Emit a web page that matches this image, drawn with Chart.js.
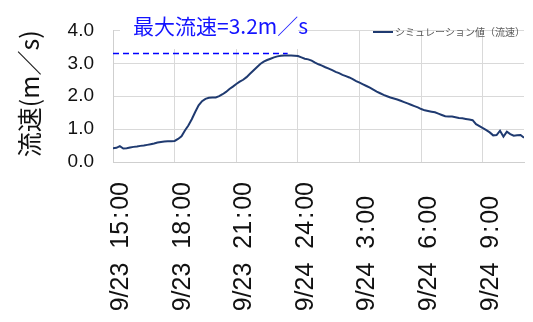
<!DOCTYPE html>
<html>
<head>
<meta charset="utf-8">
<script src="https://cdn.jsdelivr.net/npm/chart.js@4.4.0/dist/chart.umd.min.js"></script>
<style>
  body { margin: 0; background: #fff; }
  #wrap { width: 533px; height: 322px; }
</style>
</head>
<body>
<div id="wrap"><canvas id="myChart"></canvas></div>
<script>
// flow speed (m/s), one value every 10 minutes from 9/23 15:00
const speed = [
  0.42, 0.43, 0.48, 0.41, 0.42, 0.44,
  0.46, 0.47, 0.49, 0.50, 0.52, 0.54,
  0.56, 0.59, 0.61, 0.62, 0.63, 0.63,
  0.64, 0.70, 0.78, 0.96, 1.11, 1.30,
  1.52, 1.72, 1.85, 1.92, 1.95, 1.96,
  1.96, 2.00, 2.06, 2.13, 2.22, 2.29,
  2.37, 2.44, 2.50, 2.58, 2.68, 2.78,
  2.88, 2.98, 3.05, 3.10, 3.14, 3.18,
  3.21, 3.23, 3.24, 3.24, 3.24, 3.23,
  3.22, 3.18, 3.14, 3.12, 3.08, 3.02,
  2.97, 2.93, 2.88, 2.84, 2.79, 2.74,
  2.70, 2.65, 2.61, 2.57, 2.52, 2.46,
  2.41, 2.36, 2.31, 2.26, 2.20, 2.14,
  2.09, 2.04, 2.00, 1.96, 1.93, 1.90,
  1.86, 1.82, 1.78, 1.74, 1.70, 1.66,
  1.61, 1.57, 1.55, 1.53, 1.51, 1.47,
  1.43, 1.39, 1.38, 1.38, 1.36, 1.34,
  1.33, 1.31, 1.29, 1.27, 1.15, 1.09,
  1.03, 0.97, 0.90, 0.81, 0.82, 0.95,
  0.77, 0.92, 0.85, 0.80, 0.81, 0.82,
  0.74
];
const stepHours = 10 / 60;

// one label every 3 hours (trailing spaces keep the bottoms lined up)
const tickLabels = ['9/23  15\u200A:\u200A00', '9/23  18\u200A:\u200A00', '9/23  21\u200A:\u200A00',
                    '9/24  24\u200A:\u200A00', '9/24  3\u200A:\u200A00  ', '9/24  6\u200A:\u200A00  ',
                    '9/24  9\u200A:\u200A00  '];

// dashed guide for the peak
const guideHours = [0, 8.5];
const guideLevel = [3.3, 3.3];

const seriesName = 'シミュレーション値（流速）';
const peakLabel = '最大流速=3.2m／s';
const lineColor = '#1f3a70';

const overlay = {
  id: 'overlay',
  beforeDatasetsDraw(chart) {
    // white text box of the annotation hides the grid behind it
    const ctx = chart.ctx;
    ctx.save();
    ctx.fillStyle = '#fff';
    ctx.fillRect(120, 0, 178, 49);
    ctx.restore();
  },
  afterDraw(chart) {
    const ctx = chart.ctx;
    const ds = chart.data.datasets[0];
    ctx.save();
    ctx.textBaseline = 'middle';
    ctx.font = '21px "Noto Sans CJK JP"';
    ctx.fillStyle = '#1414ff';
    ctx.fillText(peakLabel, 133, 26);

    // legend
    ctx.strokeStyle = ds.borderColor;
    ctx.lineWidth = 2;
    ctx.beginPath();
    ctx.moveTo(373, 32);
    ctx.lineTo(393, 32);
    ctx.stroke();
    ctx.font = '10px "Noto Sans CJK JP"';
    ctx.fillStyle = '#595959';
    ctx.fillText(ds.label, 395, 32);
    ctx.restore();
  }
};

const ctx = document.getElementById('myChart');

new Chart(ctx, {
  type: 'line',
  data: {
    datasets: [{
      label: seriesName,
      data: speed.map((v, i) => ({ x: i * stepHours, y: v })),
      borderColor: lineColor,
      borderWidth: 2,
      pointRadius: 0,
      tension: 0,
      order: 1
    }, {
      label: 'peak',
      data: guideHours.map((h, i) => ({ x: h, y: guideLevel[i] })),
      borderColor: '#0000ff',
      borderWidth: 1.5,
      borderDash: [6, 4],
      pointRadius: 0,
      order: 0
    }]
  },
  options: {
    responsive: true,
    maintainAspectRatio: false,
    animation: false,
    layout: {
      padding: { top: 29, right: 1, bottom: 0, left: 0 }
    },
    plugins: {
      legend: { display: false },
      tooltip: { enabled: false }
    },
    scales: {
      x: {
        type: 'linear',
        min: 0,
        max: 20,
        afterFit: (s) => { s.height = 160; },
        grid: { color: '#d9d9d9', drawTicks: false },
        border: { color: '#cfcfcf' },
        ticks: {
          stepSize: 3,
          includeBounds: false,
          autoSkip: false,
          minRotation: 90,
          maxRotation: 90,
          padding: 20,
          labelOffset: 8,
          color: '#111',
          font: { family: 'Liberation Sans', size: 25 },
          callback: (v) => tickLabels[Math.round(v / 3)]
        }
      },
      y: {
        min: 0,
        max: 4,
        afterFit: (s) => { s.width = 113; },
        grid: { color: '#d9d9d9', drawTicks: false },
        border: { color: '#cfcfcf' },
        ticks: {
          stepSize: 1,
          padding: 19,
          color: '#111',
          font: { family: 'Liberation Sans', size: 19 },
          callback: (v) => v.toFixed(1)
        },
        title: {
          display: true,
          text: '流速(m／s)',
          align: 'end',
          padding: { top: 14, bottom: 0 },
          color: '#111',
          font: { family: 'Noto Sans CJK JP', size: 25 }
        }
      }
    }
  },
  plugins: [overlay]
});
</script>
</body>
</html>
